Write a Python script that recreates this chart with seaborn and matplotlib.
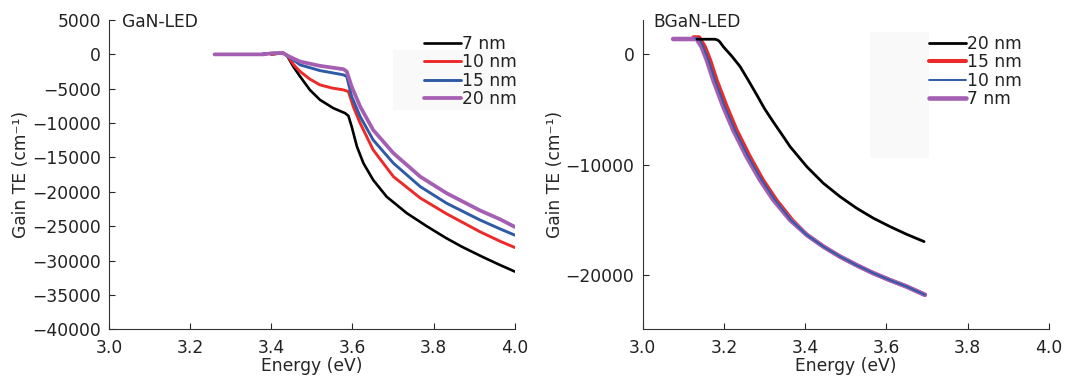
import numpy as np
import seaborn as sns
import matplotlib.pyplot as plt
from matplotlib.patches import Rectangle

# ---------------------------------------------------
# DATA : GaN-LED (left panel), energy in eV, gain in cm^-1
# ---------------------------------------------------

gan_labels = ['7 nm', '10 nm', '15 nm', '20 nm']

gan_e7 = [3.40, 3.42, 3.43, 3.44, 3.454, 3.471, 3.495, 3.520, 3.553, 3.582, 3.590, 3.598, 3.611,
          3.627, 3.651, 3.684, 3.734, 3.783, 3.830, 3.870, 3.920, 3.960, 4.00]
gan_g7 = [0, 150, 200, -300, -1770, -3230, -5170, -6620, -7830, -8560, -8950, -10500, -13420,
          -15840, -18270, -20700, -23110, -25000, -26700, -28000, -29450, -30550, -31600]

gan_e10 = [3.40, 3.42, 3.43, 3.44, 3.455, 3.471, 3.495, 3.520, 3.550, 3.578, 3.590, 3.602, 3.619,
           3.651, 3.701, 3.767, 3.832, 3.914, 3.964, 4.00]
gan_g10 = [0, 150, 200, -200, -1500, -2500, -3600, -4440, -4900, -5170, -5410, -7600, -10020,
           -13900, -17790, -20900, -23200, -25800, -27200, -28100]

gan_e15 = [3.38, 3.40, 3.42, 3.43, 3.44, 3.471, 3.520, 3.578, 3.586, 3.598, 3.619, 3.651, 3.701,
           3.767, 3.832, 3.914, 3.964, 4.00]
gan_g15 = [100, 150, 200, 150, -200, -1530, -2360, -2980, -3230, -6140, -9050, -12450, -15840,
           -19240, -21660, -24090, -25400, -26300]

gan_e20 = [3.26, 3.38, 3.40, 3.42, 3.43, 3.44, 3.471, 3.520, 3.578, 3.586, 3.598, 3.619, 3.651,
           3.701, 3.767, 3.832, 3.914, 3.964, 4.00]
gan_g20 = [0, 0, 150, 200, 150, -200, -1050, -1670, -2160, -2500, -4690, -7600, -11000,
           -14380, -17790, -20200, -22700, -24000, -25100]

# ---------------------------------------------------
# DATA : BGaN-LED (right panel)
# ---------------------------------------------------

bgan_labels = ['20 nm', '15 nm', '10 nm', '7 nm']

bgan_e20 = [3.134, 3.178, 3.185, 3.190, 3.1985, 3.220, 3.240, 3.260, 3.281, 3.300, 3.322, 3.343,
            3.363, 3.404, 3.445, 3.486, 3.527, 3.568, 3.609, 3.650, 3.693]
bgan_g20 = [1360, 1360, 1280, 1120, 690, -200, -1120, -2350, -3680, -4920, -6150, -7270,
            -8360, -10170, -11680, -12890, -13940, -14840, -15600, -16300, -16960]

bgan_e15 = [3.125, 3.139, 3.153, 3.166, 3.182, 3.207, 3.231, 3.264, 3.296, 3.329, 3.368, 3.404,
            3.445, 3.486, 3.527, 3.568, 3.609, 3.650, 3.695]
bgan_g15 = [1540, 1540, 690, -520, -2330, -4740, -6850, -9270, -11380, -13190, -15000, -16350,
            -17410, -18320, -19100, -19820, -20450, -21030, -21780]

bgan_e10 = [3.130, 3.140, 3.149, 3.162, 3.178, 3.2025, 3.227, 3.260, 3.293, 3.326, 3.365, 3.404,
            3.445, 3.486, 3.527, 3.568, 3.609, 3.650, 3.695]
bgan_g10 = [1450, 1400, 690, -520, -2330, -4740, -6850, -9270, -11380, -13190, -15000, -16350,
            -17410, -18320, -19100, -19820, -20450, -21030, -21780]

bgan_e7 = [3.075, 3.133, 3.145, 3.158, 3.174, 3.1985, 3.223, 3.256, 3.289, 3.322, 3.363, 3.404,
           3.445, 3.486, 3.527, 3.568, 3.609, 3.650, 3.695]
bgan_g7 = [1380, 1380, 690, -520, -2330, -4740, -6850, -9270, -11380, -13190, -15000, -16350,
           -17410, -18320, -19100, -19820, -20450, -21030, -21780]

colors = ['black', '#ec2a2a', '#2f5aa6', '#a55fb2']
gan_widths = [1.9, 2.1, 2.1, 2.7]
bgan_widths = [2.0, 2.9, 1.4, 3.3]

# ---------------------------------------------------
# STYLE
# ---------------------------------------------------

sns.set_style('ticks')
plt.rcParams['font.family'] = ['DejaVu Sans']
plt.rcParams['font.size'] = 12.3
plt.rcParams['xtick.direction'] = 'in'
plt.rcParams['ytick.direction'] = 'in'
plt.rcParams['xtick.major.size'] = 4
plt.rcParams['ytick.major.size'] = 4
plt.rcParams['xtick.major.pad'] = 7
plt.rcParams['ytick.major.pad'] = 6
plt.rcParams['axes.edgecolor'] = '#333333'
plt.rcParams['text.color'] = '#222222'
plt.rcParams['xtick.labelcolor'] = '#222222'
plt.rcParams['ytick.labelcolor'] = '#222222'

fig = plt.figure(figsize=(10.66, 3.82), dpi=100)
ax1 = fig.add_axes([0.1023, 0.138, 0.3806, 0.8096])
ax2 = fig.add_axes([0.6029, 0.138, 0.3809, 0.8096])

leg_kw = dict(frameon=False, handlelength=2.15, handletextpad=0.08,
              labelspacing=0.02, borderaxespad=0, borderpad=0)

# ---------------------------------------------------
# LEFT PANEL
# ---------------------------------------------------

ax1.add_patch(Rectangle((3.70, -8080), 0.30, 8730, color='#f9f9f9', zorder=0, lw=0))
gan_e = [gan_e7, gan_e10, gan_e15, gan_e20]
gan_g = [gan_g7, gan_g10, gan_g15, gan_g20]
for e, g, lab, c, w in zip(gan_e, gan_g, gan_labels, colors, gan_widths):
    sns.lineplot(x=e, y=g, ax=ax1, color=c, linewidth=w, label=lab, sort=False)

ax1.set_xlim(3.0, 4.0)
ax1.set_ylim(-40000, 5000)
ax1.set_xticks(np.arange(3.0, 4.01, 0.2))
ax1.set_xticklabels(['3.0', '3.2', '3.4', '3.6', '3.8', '4.0'])
ax1.set_yticks(np.arange(-40000, 5001, 5000))
ax1.set_xlabel('Energy (eV)', labelpad=0)
ax1.set_ylabel('Gain TE (cm⁻¹)', labelpad=1)
ax1.text(0.032, 0.995, 'GaN-LED', transform=ax1.transAxes, va='center')
ax1.legend(loc='upper left', bbox_to_anchor=(0.776, 0.952), **leg_kw)

# ---------------------------------------------------
# RIGHT PANEL
# ---------------------------------------------------

ax2.add_patch(Rectangle((3.561, -9410), 0.145, 11460, color='#f9f9f9', zorder=0, lw=0))
bgan_e = [bgan_e20, bgan_e15, bgan_e10, bgan_e7]
bgan_g = [bgan_g20, bgan_g15, bgan_g10, bgan_g7]
draw_order = [1, 3, 2, 0]
for i in draw_order:
    sns.lineplot(x=bgan_e[i], y=bgan_g[i], ax=ax2, color=colors[i],
                 linewidth=bgan_widths[i], label=bgan_labels[i], sort=False)

handles, labels = ax2.get_legend_handles_labels()
order = [labels.index(lab) for lab in bgan_labels]
ax2.set_xlim(3.0, 4.0)
ax2.set_ylim(-24900, 3100)
ax2.set_xticks(np.arange(3.0, 4.01, 0.2))
ax2.set_xticklabels(['3.0', '3.2', '3.4', '3.6', '3.8', '4.0'])
ax2.set_yticks([-20000, -10000, 0])
ax2.set_xlabel('Energy (eV)', labelpad=0)
ax2.set_ylabel('Gain TE (cm⁻¹)', labelpad=1)
ax2.text(0.027, 0.995, 'BGaN-LED', transform=ax2.transAxes, va='center')
ax2.legend([handles[k] for k in order], [labels[k] for k in order],
           loc='upper left', bbox_to_anchor=(0.705, 0.952), **leg_kw)

sns.despine(fig)

plt.savefig('out.png', dpi=100)
